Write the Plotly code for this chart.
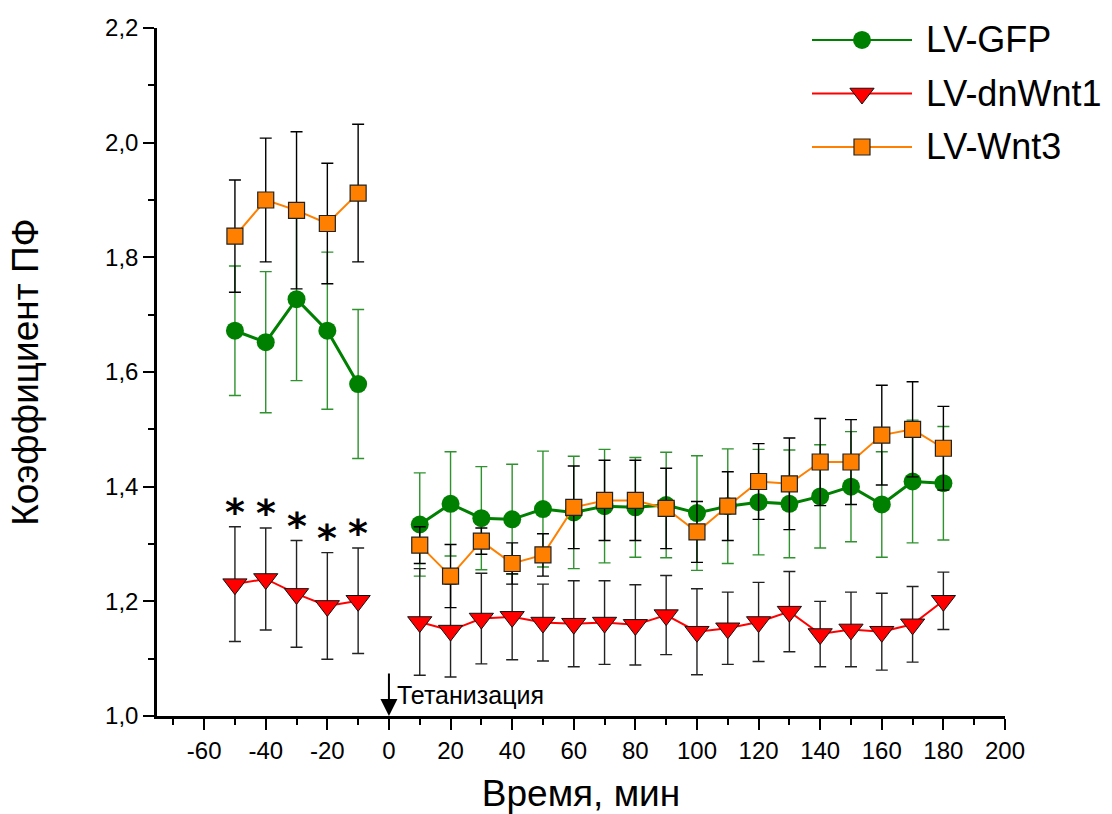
import plotly.graph_objects as go

# ---------------- data ----------------
time_min = [-50, -40, -30, -20, -10, 0, 10, 20, 30, 40, 50, 60, 70, 80, 90,
            100, 110, 120, 130, 140, 150, 160, 170, 180]

gfp_mean = [1.672, 1.652, 1.727, 1.672, 1.579, None, 1.334, 1.370, 1.345, 1.343,
            1.361, 1.355, 1.366, 1.364, 1.368, 1.354, 1.366, 1.373, 1.370, 1.383,
            1.400, 1.369, 1.409, 1.406]
gfp_err = [0.113, 0.123, 0.142, 0.137, 0.130, None, 0.090, 0.091, 0.090, 0.096,
           0.101, 0.098, 0.099, 0.087, 0.092, 0.100, 0.100, 0.092, 0.094, 0.090,
           0.096, 0.092, 0.107, 0.099]

dn_mean = [1.230, 1.239, 1.213, 1.192, 1.201, None, 1.164, 1.149, 1.170, 1.173,
           1.163, 1.161, 1.163, 1.159, 1.176, 1.147, 1.153, 1.164, 1.182, 1.143,
           1.151, 1.147, 1.160, 1.201]
dn_err = [0.100, 0.089, 0.093, 0.093, 0.092, None, 0.093, 0.081, 0.079, 0.075,
          0.067, 0.075, 0.073, 0.070, 0.069, 0.075, 0.063, 0.069, 0.070, 0.057,
          0.065, 0.067, 0.066, 0.050]

wnt_mean = [1.837, 1.900, 1.882, 1.859, 1.912, None, 1.298, 1.244, 1.305, 1.266,
            1.281, 1.364, 1.376, 1.376, 1.362, 1.321, 1.366, 1.409, 1.405, 1.443,
            1.443, 1.490, 1.500, 1.467]
wnt_err = [0.098, 0.108, 0.137, 0.105, 0.120, None, 0.032, 0.055, 0.023, 0.036,
           0.037, 0.072, 0.070, 0.070, 0.070, 0.053, 0.060, 0.066, 0.080, 0.076,
           0.074, 0.087, 0.083, 0.073]

series_names = ["LV-GFP", "LV-dnWnt1", "LV-Wnt3"]
signif_times = [-50, -40, -30, -20, -10]   # points marked with *

x_tick_vals = [-60, -40, -20, 0, 20, 40, 60, 80, 100, 120, 140, 160, 180, 200]
x_tick_text = ["-60", "-40", "-20", "0", "20", "40", "60", "80", "100", "120",
               "140", "160", "180", "200"]
y_tick_vals = [1.0, 1.2, 1.4, 1.6, 1.8, 2.0, 2.2]
y_tick_text = ["1,0", "1,2", "1,4", "1,6", "1,8", "2,0", "2,2"]

x_title = "Время, мин"
y_title = "Коэффициент ПФ"
event_label = "Тетанизация"

# ---------------- styles ----------------
FONT = "Liberation Sans, Arial, sans-serif"
GREEN = "#008000"
RED = "#FF0000"
ORANGE = "#FF8000"

styles = [
    dict(line=dict(color=GREEN, width=3),
         marker=dict(symbol="circle", size=18, color=GREEN, line=dict(width=0)),
         err_color="#2E922E", err_thick=1.4),
    dict(line=dict(color=RED, width=2),
         marker=dict(symbol="triangle-down", size=21, color=RED,
                     line=dict(color="#111111", width=1)),
         err_color="#222222", err_thick=1.4),
    dict(line=dict(color=ORANGE, width=2),
         marker=dict(symbol="square", size=16, color=ORANGE,
                     line=dict(color="#222222", width=1.2)),
         err_color="#000000", err_thick=1.4),
]

means = [gfp_mean, dn_mean, wnt_mean]
errs = [gfp_err, dn_err, wnt_err]

fig = go.Figure()

for name, m, e, st in zip(series_names, means, errs, styles):
    fig.add_trace(go.Scatter(
        x=time_min, y=m, name=name, mode="lines+markers",
        line=st["line"], marker=st["marker"], connectgaps=False,
        error_y=dict(type="data", array=e, visible=True, color=st["err_color"],
                     thickness=st["err_thick"], width=6),
        showlegend=False,
    ))

# ---------------- manual legend on an overlay axis ----------------
for i, (name, st) in enumerate(zip(series_names, styles)):
    fig.add_trace(go.Scatter(
        x=[0, 1], y=[i, i], mode="lines", line=dict(color=st["line"]["color"], width=2),
        xaxis="x2", yaxis="y2", showlegend=False, hoverinfo="skip"))
    fig.add_trace(go.Scatter(
        x=[0.5], y=[i], mode="markers", marker=dict(st["marker"]),
        xaxis="x2", yaxis="y2", showlegend=False, hoverinfo="skip"))
    fig.add_annotation(x=1.12, y=i, xref="x2", yref="y2", text=name,
                       showarrow=False, xanchor="left", yanchor="middle",
                       font=dict(family=FONT, size=36, color="black"))

# ---------------- significance asterisks ----------------
for t in signif_times:
    k = time_min.index(t)
    fig.add_annotation(x=t, y=dn_mean[k] + dn_err[k], xref="x", yref="y",
                       text="<b>*</b>", showarrow=False, yanchor="bottom", yshift=-9,
                       font=dict(family="DejaVu Sans, sans-serif", size=38, color="black"))

# ---------------- event arrow ----------------
fig.add_annotation(x=0, y=1.0, xref="x", yref="y", text="", showarrow=True,
                   ax=0, ay=-44, arrowhead=2, arrowsize=1.7, arrowwidth=2,
                   arrowcolor="black", standoff=0)
fig.add_annotation(x=0, y=1.0, xref="x", yref="y", text=event_label,
                   showarrow=False, xanchor="left", yanchor="bottom",
                   xshift=6, yshift=5,
                   font=dict(family=FONT, size=25, color="black"))

axis_common = dict(
    showline=True, linecolor="black", linewidth=2.5, mirror=False, automargin=False,
    showgrid=False, zeroline=False, ticks="outside", ticklen=11, tickwidth=2,
    tickcolor="black", tickfont=dict(family=FONT, size=24, color="black"),
)

fig.update_layout(
    width=1112, height=814,
    margin=dict(l=157, r=107, t=28, b=98),
    paper_bgcolor="white", plot_bgcolor="white",
    font=dict(family=FONT, color="black"),
    xaxis=dict(
        **axis_common, range=[-75.3, 200], tickmode="array",
        tickvals=x_tick_vals, ticktext=x_tick_text,
        minor=dict(dtick=10, tick0=0, ticklen=6, tickwidth=2, tickcolor="black",
                   ticks="outside"),
        title=dict(text=x_title, font=dict(family=FONT, size=37, color="black"),
                   standoff=24),
    ),
    yaxis=dict(
        **axis_common, range=[1.0, 2.2], tickmode="array",
        tickvals=y_tick_vals, ticktext=y_tick_text,
        minor=dict(dtick=0.1, tick0=1.0, ticklen=6, tickwidth=2, tickcolor="black",
                   ticks="outside"),
        title=dict(text=y_title, font=dict(family=FONT, size=37, color="black"),
                   standoff=56),
    ),
    xaxis2=dict(domain=[0.7724, 1.0], range=[0, 1.93], visible=False,
                anchor="y2", fixedrange=True),
    yaxis2=dict(domain=[0.7667, 1.0], range=[2.776, -0.224], visible=False,
                anchor="x2", fixedrange=True),
    showlegend=False,
)

fig.write_html("out.html", config={"displayModeBar": False},
               post_script="document.body.style.margin='0';")
